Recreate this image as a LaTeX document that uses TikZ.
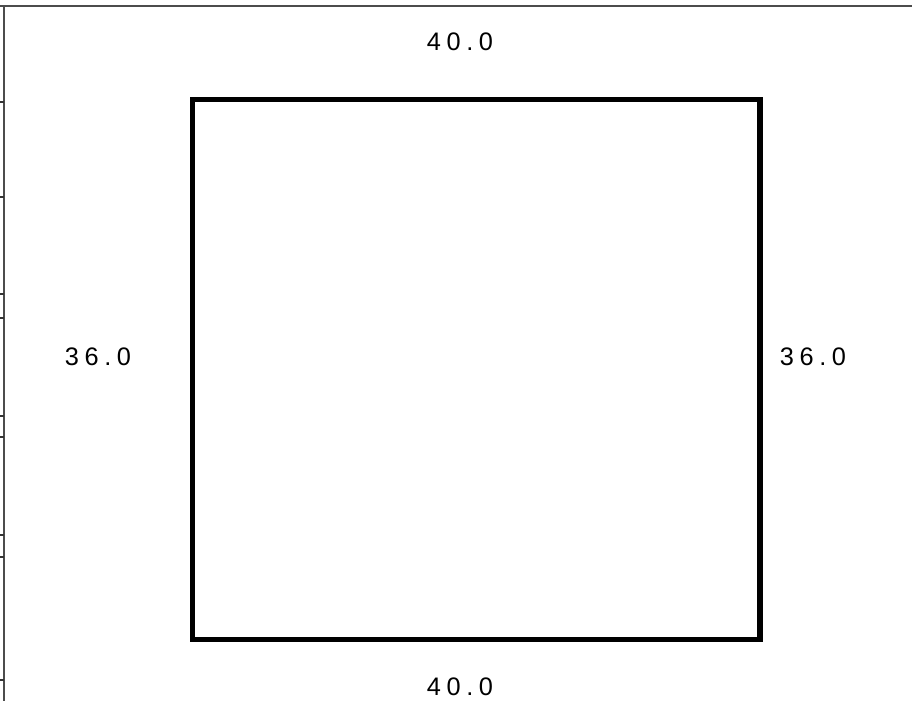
\documentclass[tikz,border=0pt]{standalone}
\usepackage{fontspec}
\setmainfont{Liberation Sans}
\usetikzlibrary{positioning}

\tikzset{
  dimlabel/.style={font=\fontsize{19}{22}\selectfont\addfontfeature{LetterSpace=22},inner sep=0pt},
  axisline/.style={black!70,line width=1.5pt},
  tickline/.style={black!80,line width=1pt}
}

\begin{document}
\begin{tikzpicture}[x=0.75pt,y=-0.75pt]
      \useasboundingbox (0,0) rectangle (915,701);

      % frame of the plot
      \coordinate (topleft) at (4,6);
      \coordinate (topright) at (912,6);
      \coordinate (bottomleft) at (4,701);
      \draw[axisline] (0,6) -- (topright);
      \draw[axisline] (topleft) -- (bottomleft);

      % ticks on the left edge
      \foreach \ty in {102,197,294,318,416,437,535,557,680}
        \draw[tickline] (0,\ty) -- (4,\ty);

      % the square
      \node[draw=black,line width=3.8pt,minimum width=567.5pt*0.75,minimum height=540pt*0.75,inner sep=0pt] (plate) at (476.25,369.75) {};

      % dimensions
      \node[dimlabel] (toplen) at (460,42) {40.0};
      \node[dimlabel] (bottomlen) at (460,687) {40.0};
      \node[dimlabel] (leftlen) at (98,357) {36.0};
      \node[dimlabel] (rightlen) at (813,357) {36.0};

\end{tikzpicture}
\end{document}
